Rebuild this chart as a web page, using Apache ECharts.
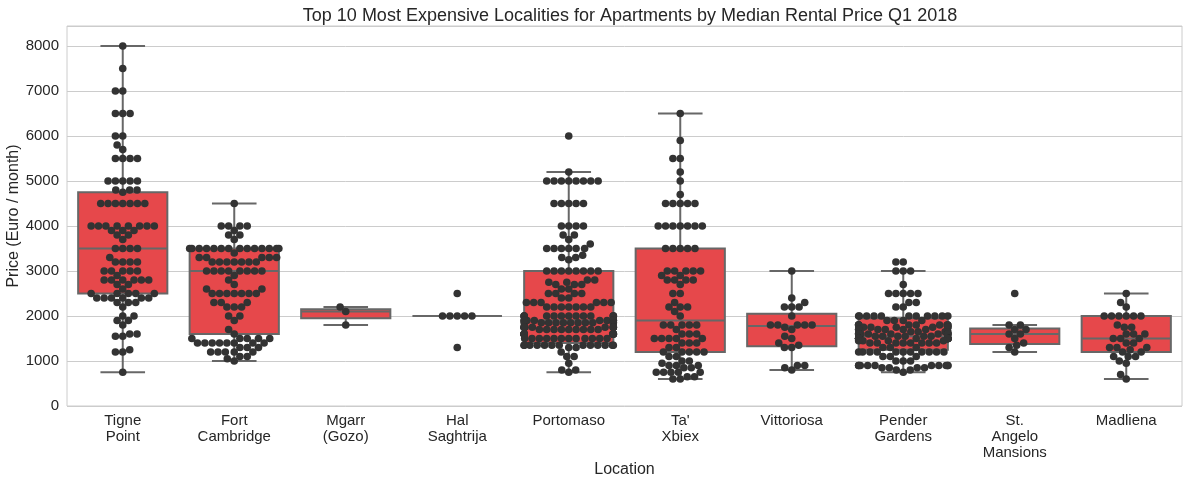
<!DOCTYPE html>
<html>
<head>
<meta charset="utf-8">
<script src="https://cdn.jsdelivr.net/npm/echarts@6/dist/echarts.min.js"></script>
<style>html,body{margin:0;padding:0;background:#fff}#chart{width:1190px;height:486px}</style>
</head>
<body>
<div id="chart"></div>
<script>
// ---------- DATA ----------
const categories = ['Tigne\nPoint', 'Fort\nCambridge', 'Mgarr\n(Gozo)', 'Hal\nSaghtrija', 'Portomaso',
  "Ta'\nXbiex", 'Vittoriosa', 'Pender\nGardens', 'St.\nAngelo\nMansions', 'Madliena'];

// box statistics
const boxLow    = [750, 1000, 1800, 2000, 750, 600, 800, 750, 1200, 600];
const boxQ1     = [2500, 1600, 1950, 2000, 1400, 1200, 1330, 1250, 1380, 1200];
const boxMedian = [3500, 3000, 2100, 2000, 1900, 1900, 1780, 1550, 1600, 1500];
const boxQ3     = [4750, 3500, 2150, 2000, 3000, 3500, 2050, 1950, 1720, 2000];
const boxHigh   = [8000, 4500, 2200, 2000, 5200, 6500, 3000, 3000, 1800, 2500];

// individual listings as [price, number of listings at that price]
const tignePoint = [[8000,1],[7500,1],[7000,2],[6500,3],[6000,2],[5800,1],[5700,1],[5500,4],[5000,5],[4800,3],[4750,1],
  [4500,7],[4000,8],[3900,3],[3800,2],[3700,1],[3500,4],[3300,1],[3200,4],[3000,5],[2900,1],[2800,6],[2700,2],[2600,1],
  [2500,5],[2400,6],[2300,3],[2200,1],[2000,2],[1900,2],[1800,1],[1600,2],[1550,2],[1250,1],[1200,2],[750,1]];
const fortCambridge = [[4500,1],[4000,4],[3900,1],[3800,2],[3700,1],[3500,14],[3400,1],[3300,5],[3200,7],[3000,8],[2900,1],
  [2800,1],[2700,1],[2600,2],[2500,7],[2300,3],[2200,3],[2000,2],[1900,1],[1700,1],[1600,1],[1500,5],[1400,8],[1300,3],
  [1200,5],[1100,2],[1050,1],[1000,1]];
const mgarrGozo = [[2200,1],[2100,1],[1800,1]];
const halSaghtrija = [[2500,1],[2000,5],[1300,1]];
const portomaso = [[6000,1],[5200,1],[5000,8],[4500,5],[4000,4],[3800,2],[3700,1],[3600,1],[3500,6],[3350,1],[3300,2],
  [3250,1],[3000,8],[2800,2],[2750,2],[2700,3],[2600,2],[2500,4],[2400,2],[2300,6],[2200,7],[2000,13],[1900,9],
  [1850,11],[1750,11],[1700,9],[1600,12],[1500,12],[1350,13],[1300,2],[1200,1],[1100,2],[950,1],[800,2],[750,1]];
const taXbiex = [[6500,1],[5900,1],[5500,2],[5200,1],[5000,1],[4700,1],[4500,5],[4000,7],[3500,5],[3000,5],[2900,2],
  [2800,4],[2700,1],[2500,2],[2300,1],[2200,3],[2100,1],[2000,1],[1800,5],[1700,1],[1600,3],[1500,5],[1400,3],[1300,2],
  [1200,5],[1100,2],[1000,2],[950,1],[900,3],[850,2],[750,5],[650,2],[600,2]];
const vittoriosa = [[3000,1],[2400,1],[2300,1],[2200,3],[2000,1],[1800,5],[1750,1],[1700,1],[1550,1],[1500,1],[1400,1],
  [1350,1],[1300,2],[900,2],[850,1],[800,1]];
const penderGardens = [[3200,2],[3000,3],[2700,1],[2500,5],[2300,2],[2200,2],[2000,11],[1900,4],[1800,10],[1750,6],
  [1700,6],[1650,4],[1600,10],[1550,6],[1500,14],[1450,4],[1400,8],[1300,3],[1200,11],[1100,3],[1000,3],[900,10],
  [850,4],[800,2],[750,1]];
const stAngeloMansions = [[2500,1],[1800,2],[1700,2],[1600,2],[1500,1],[1400,1],[1350,1],[1300,1],[1200,1]];
const madliena = [[2500,1],[2300,1],[2200,1],[2000,6],[1800,1],[1750,2],[1600,3],[1500,3],[1400,2],[1300,3],[1250,1],
  [1200,2],[1100,3],[1000,1],[950,1],[700,1],[600,1]];

const listingsByCategory = [tignePoint, fortCambridge, mgarrGozo, halSaghtrija, portomaso, taXbiex, vittoriosa,
  penderGardens, stAngeloMansions, madliena];

const yTickMax = 8444;
const yTickInterval = 1000;

// ---------- BUILD ----------
const boxData = categories.map((c, i) => [i, boxLow[i], boxQ1[i], boxMedian[i], boxQ3[i], boxHigh[i]]);
const pointData = [];
listingsByCategory.forEach((list, ci) => {
  list.forEach(([price, n]) => { for (let k = 0; k < n; k++) pointData.push([ci, price]); });
});

const FONT = "'Liberation Sans', Arial, sans-serif";
const TEXT = '#262626';
const BOX_FILL = '#e6484b';
const BOX_LINE = '#676767';
const DOT = '#333333';
const R = 3.5;          // collision radius (px)
const DRAW_R = 3.8;

let swarmOffsets = null;
function computeSwarm(api) {
  const band = api.size([1, 0])[0];
  const half = band * 0.4;
  const offsets = new Array(pointData.length).fill(0);
  const groups = {};
  pointData.forEach((p, idx) => { (groups[p[0]] = groups[p[0]] || []).push(idx); });
  Object.keys(groups).forEach(k => {
    const idxs = groups[k].slice();
    const pys = {};
    idxs.forEach(ix => { pys[ix] = api.coord([pointData[ix][0], pointData[ix][1]])[1]; });
    idxs.sort((a, b) => pys[b] - pys[a]); // ascending value
    const placed = [];
    idxs.forEach(ix => {
      const y = pys[ix];
      const neighbors = [];
      for (let j = placed.length - 1; j >= 0; j--) {
        if (Math.abs(y - placed[j].y) < 2 * R) neighbors.push(placed[j]); else break;
      }
      const cands = [0];
      let leftFirst = true;
      neighbors.forEach(n => {
        const dy = y - n.y;
        const dx = Math.sqrt(Math.max(4 * R * R - dy * dy, 0)) * 1.05;
        if (leftFirst) cands.push(n.x - dx, n.x + dx); else cands.push(n.x + dx, n.x - dx);
        leftFirst = !leftFirst;
      });
      const order = cands.map((c, i) => i).sort((a, b) => (Math.abs(cands[a]) - Math.abs(cands[b])) || (a - b));
      let chosen = cands[order[order.length - 1]];
      for (const oi of order) {
        const cx = cands[oi];
        let ok = true;
        for (const n of neighbors) {
          const ddx = cx - n.x, ddy = y - n.y;
          if (ddx * ddx + ddy * ddy < 4 * R * R - 1e-6) { ok = false; break; }
        }
        if (ok) { chosen = cx; break; }
      }
      placed.push({ x: chosen, y: y });
      offsets[ix] = Math.max(-half, Math.min(half, chosen));
    });
  });
  return offsets;
}

const chart = echarts.init(document.getElementById('chart'), null, { renderer: 'canvas' });
chart.setOption({
  animation: false,
  backgroundColor: '#ffffff',
  textStyle: { fontFamily: FONT },
  title: {
    text: 'Top 10 Most Expensive Localities for Apartments by Median Rental Price Q1 2018',
    left: 625, top: 2, textAlign: 'center',
    textStyle: { fontSize: 18, fontWeight: 'normal', color: TEXT, fontFamily: FONT }
  },
  grid: { left: 67, right: 8, top: 26, bottom: 80, show: true, borderColor: '#cccccc', borderWidth: 1,
    containLabel: false, outerBoundsMode: 'none' },
  xAxis: {
    type: 'category', data: categories, boundaryGap: true,
    axisLine: { show: false }, axisTick: { show: false }, splitLine: { show: false },
    axisLabel: { interval: 0, color: TEXT, fontSize: 15, lineHeight: 16, margin: 7, fontFamily: FONT },
    name: 'Location', nameLocation: 'middle', nameGap: 56, nameMoveOverlap: false,
    nameTextStyle: { fontSize: 16, color: TEXT, fontFamily: FONT }
  },
  yAxis: {
    type: 'value', min: 0, max: yTickMax, interval: yTickInterval,
    axisLine: { show: false }, axisTick: { show: false },
    splitLine: { show: true, lineStyle: { color: '#cccccc', width: 1 } },
    axisLabel: { color: TEXT, fontSize: 15, margin: 8, showMaxLabel: false, fontFamily: FONT,
      formatter: v => String(v) },
    name: 'Price (Euro / month)', nameLocation: 'middle', nameGap: 45, nameRotate: 90, nameMoveOverlap: false,
    nameTextStyle: { fontSize: 16, color: TEXT, fontFamily: FONT }
  },
  series: [
    {
      type: 'custom', z: 2, data: boxData,
      encode: { x: 0, y: [1, 2, 3, 4, 5] },
      renderItem: function (params, api) {
        const i = api.value(0);
        const band = api.size([1, 0])[0];
        const w = band * 0.8;
        const cx = api.coord([i, 0])[0];
        const py = v => api.coord([i, v])[1];
        const yLow = py(api.value(1)), yQ1 = py(api.value(2)), yMed = py(api.value(3)),
              yQ3 = py(api.value(4)), yHigh = py(api.value(5));
        const ls = { stroke: BOX_LINE, lineWidth: 2 };
        const cap = w / 4;
        return {
          type: 'group',
          children: [
            { type: 'line', shape: { x1: cx, y1: yQ1, x2: cx, y2: yLow }, style: ls },
            { type: 'line', shape: { x1: cx, y1: yQ3, x2: cx, y2: yHigh }, style: ls },
            { type: 'line', shape: { x1: cx - cap, y1: yLow, x2: cx + cap, y2: yLow }, style: ls },
            { type: 'line', shape: { x1: cx - cap, y1: yHigh, x2: cx + cap, y2: yHigh }, style: ls },
            { type: 'rect', shape: { x: cx - w / 2, y: yQ3, width: w, height: yQ1 - yQ3 },
              style: { fill: BOX_FILL, stroke: BOX_LINE, lineWidth: 2 } },
            { type: 'line', shape: { x1: cx - w / 2, y1: yMed, x2: cx + w / 2, y2: yMed }, style: ls }
          ]
        };
      }
    },
    {
      type: 'custom', z: 3, data: pointData,
      encode: { x: 0, y: 1 },
      renderItem: function (params, api) {
        if (params.dataIndexInside === 0 || !swarmOffsets) swarmOffsets = computeSwarm(api);
        const pt = api.coord([api.value(0), api.value(1)]);
        return {
          type: 'circle',
          shape: { cx: pt[0] + swarmOffsets[params.dataIndex], cy: pt[1], r: DRAW_R },
          style: { fill: DOT }
        };
      }
    }
  ]
});
</script>
</body>
</html>
